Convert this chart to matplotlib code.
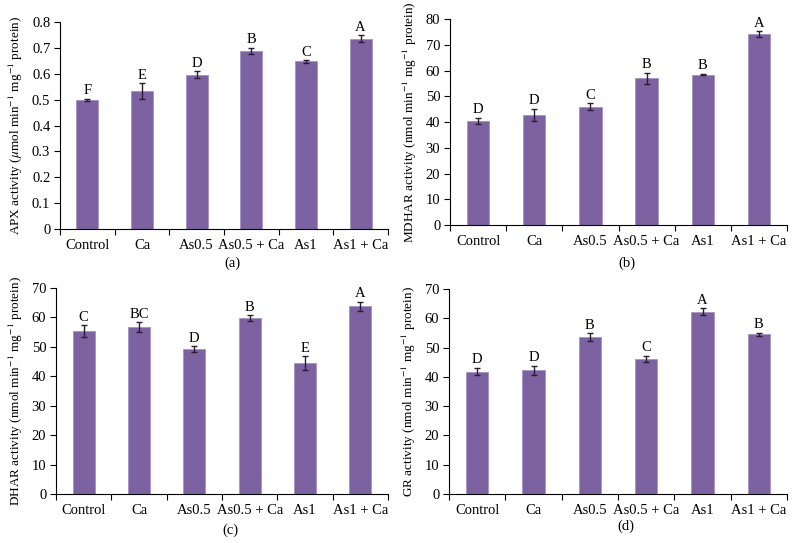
import numpy as np
import matplotlib.pyplot as plt

plt.rcParams['font.family'] = ['Liberation Serif', 'DejaVu Serif']
plt.rcParams['mathtext.fontset'] = 'stix'

groups = ['Control', 'Ca', 'As0.5', 'As0.5 + Ca', 'As1', 'As1 + Ca']

apx = [0.499, 0.533, 0.597, 0.688, 0.648, 0.736]
apx_err = [0.005, 0.030, 0.012, 0.012, 0.005, 0.012]
apx_let = ['F', 'E', 'D', 'B', 'C', 'A']

mdhar = [40.5, 42.8, 46.0, 57.0, 58.4, 74.2]
mdhar_err = [1.2, 2.3, 1.3, 2.2, 0.3, 1.0]
mdhar_let = ['D', 'D', 'C', 'B', 'B', 'A']

dhar = [55.3, 56.7, 49.3, 59.8, 44.6, 63.8]
dhar_err = [2.1, 1.7, 0.9, 1.0, 2.3, 1.6]
dhar_let = ['C', 'BC', 'D', 'B', 'E', 'A']

gr = [41.8, 42.3, 53.6, 46.1, 62.3, 54.5]
gr_err = [1.3, 1.5, 1.3, 1.1, 1.1, 0.5]
gr_let = ['D', 'D', 'B', 'C', 'A', 'B']

bar_color = '#7D62A1'
err_color = '#2B1C33'

fig = plt.figure(figsize=(7.97, 5.43), dpi=100)


def panel(rect, vals, errs, lets, ymax, ystep, ylabel, tag, tagy, fmt, off):
    ax = fig.add_axes(rect)
    x = np.arange(len(groups))
    ax.bar(x, vals, width=0.4, color=bar_color, edgecolor='#A792C4', linewidth=0.6, zorder=2)
    ax.errorbar(x, vals, yerr=errs, fmt='none', ecolor=err_color, elinewidth=1.0,
                capsize=2.5, capthick=1.0, zorder=3)
    for xi, v, e, t in zip(x, vals, errs, lets):
        ax.text(xi, v + e + off, t, ha='center', va='bottom', fontsize=10.5)
    ax.set_xlim(-0.5, len(groups) - 0.5)
    ax.set_ylim(0, ymax)
    ticks = np.arange(0, ymax + ystep / 2, ystep)
    ax.set_yticks(ticks)
    ax.set_yticklabels([fmt(t) for t in ticks], fontsize=10.5)
    ax.set_xticks(x)
    ax.set_xticklabels(groups, fontsize=10.5)
    ax.tick_params(axis='x', length=0, pad=7)
    ax.set_xticks(np.arange(-0.5, len(groups)), minor=True)
    ax.tick_params(axis='x', which='minor', length=4, direction='out', width=0.8)
    ax.tick_params(axis='y', length=4, direction='out', width=0.8, pad=3)
    for s in ['top', 'right']:
        ax.spines[s].set_visible(False)
    for s in ['left', 'bottom']:
        ax.spines[s].set_linewidth(0.8)
    ax.set_ylabel(ylabel, fontsize=9.5, labelpad=5)
    fig.text(rect[0] + rect[2] / 2 + 0.01, tagy, tag, ha='center', va='center', fontsize=10.5)
    return ax


def f_apx(t):
    return '0' if abs(t) < 1e-9 else '%.1f' % t


def f_int(t):
    return '%d' % round(t)


panel([0.0753, 0.578, 0.4115, 0.3815], apx, apx_err, apx_let, 0.8, 0.1,
      r'APX activity ($\mu$mol min$^{-1}$ mg$^{-1}$ protein)', '(a)', 0.516, f_apx, 0.006)
panel([0.5646, 0.5856, 0.4229, 0.3794], mdhar, mdhar_err, mdhar_let, 80, 10,
      r'MDHAR activity (nmol min$^{-1}$ mg$^{-1}$ protein)', '(b)', 0.516, f_int, 0.6)
panel([0.0703, 0.0902, 0.4165, 0.3794], dhar, dhar_err, dhar_let, 70, 10,
      r'DHAR activity (nmol min$^{-1}$ mg$^{-1}$ protein)', '(c)', 0.024, f_int, 0.5)
panel([0.5634, 0.0902, 0.4241, 0.3776], gr, gr_err, gr_let, 70, 10,
      r'GR activity (nmol min$^{-1}$ mg$^{-1}$ protein)', '(d)', 0.03, f_int, 0.5)

fig.savefig('out.png', dpi=100)
